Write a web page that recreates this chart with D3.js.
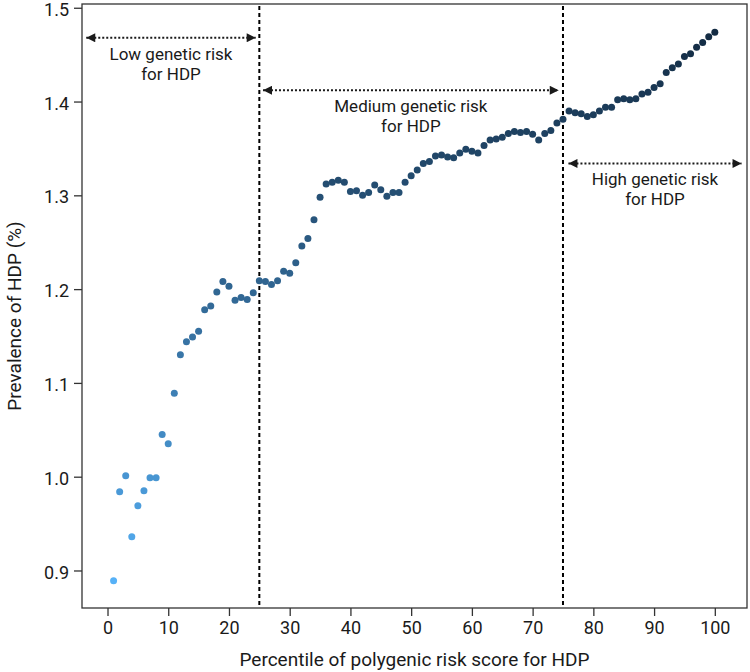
<!DOCTYPE html>
<html>
<head>
<meta charset="utf-8">
<script src="https://cdn.jsdelivr.net/npm/d3@7"></script>
<style>
  body { margin: 0; background: #fff; }
  text { font-family: Roboto, "Noto Sans", sans-serif; fill: #1a1a1a; }
</style>
</head>
<body>
<div id="chart"></div>
<script>
// percentile of polygenic risk score (1..100)
const percentiles = d3.range(1, 101);

// prevalence of HDP (%), one per percentile
const prevalence = [
  0.889, 0.984, 1.001, 0.936, 0.969, 0.985, 0.999, 0.999, 1.045, 1.035,
  1.089, 1.130, 1.144, 1.149, 1.155, 1.178, 1.182, 1.197, 1.208, 1.203,
  1.188, 1.191, 1.189, 1.196, 1.209, 1.208, 1.205, 1.209, 1.219, 1.217,
  1.228, 1.246, 1.254, 1.274, 1.298, 1.312, 1.314, 1.316, 1.314, 1.304,
  1.305, 1.300, 1.303, 1.311, 1.306, 1.299, 1.303, 1.303, 1.314, 1.321,
  1.327, 1.334, 1.336, 1.342, 1.343, 1.341, 1.340, 1.345, 1.349, 1.347,
  1.345, 1.353, 1.359, 1.360, 1.362, 1.366, 1.368, 1.367, 1.368, 1.365,
  1.359, 1.366, 1.369, 1.377, 1.381, 1.390, 1.388, 1.387, 1.384, 1.386,
  1.390, 1.394, 1.394, 1.402, 1.403, 1.402, 1.403, 1.408, 1.410, 1.415,
  1.419, 1.431, 1.436, 1.440, 1.448, 1.451, 1.458, 1.463, 1.469, 1.474
];

const xTicks = [0, 10, 20, 30, 40, 50, 60, 70, 80, 90, 100];
const yTicks = [0.9, 1.0, 1.1, 1.2, 1.3, 1.4, 1.5];

// risk group cut points and their labels
const cutPoints = [25, 75];
const groupLabels = [
  ["Low genetic risk", "for HDP"],
  ["Medium genetic risk", "for HDP"],
  ["High genetic risk", "for HDP"]
];
// arrow spans (percentile units) and heights (prevalence units)
const groupFrom = [-3.5, 25.6, 75.9];
const groupTo = [24.4, 74.3, 104.4];
const groupY = [1.468, 1.412, 1.334];

const width = 750, height = 672;
const box = {left: 82, right: 747, top: 4, bottom: 608};

const svg = d3.select('#chart')
  .append('svg')
  .attr('width', width)
  .attr('height', height);

const x = d3.scaleLinear()
  .domain([-4.2, 105.3])
  .range([box.left, box.right]);

const y = d3.scaleLinear()
  .domain([0.86, 1.504])
  .range([box.bottom, box.top]);

const color = d3.scaleLinear()
  .domain(d3.extent(prevalence))
  .range(['#56B1F7', '#132B43'])
  .interpolate(d3.interpolateLab);

// X axis
const xAxis = svg.append('g')
  .attr('transform', `translate(0,${box.bottom})`)
  .call(d3.axisBottom(x).tickValues(xTicks).tickSize(8).tickPadding(5));
xAxis.select('.domain').remove();
xAxis.selectAll('line').attr('stroke', '#333').attr('stroke-width', 1.3);
xAxis.selectAll('text')
  .attr('font-size', 18)
  .attr('font-family', 'Roboto, sans-serif')
  .attr('fill', '#1a1a1a');

// Y axis
const yAxis = svg.append('g')
  .attr('transform', `translate(${box.left},0)`)
  .call(d3.axisLeft(y).tickValues(yTicks).tickFormat(d3.format('.1f')).tickSize(8).tickPadding(5));
yAxis.select('.domain').remove();
yAxis.selectAll('line').attr('stroke', '#333').attr('stroke-width', 1.3);
yAxis.selectAll('text')
  .attr('font-size', 18)
  .attr('font-family', 'Roboto, sans-serif')
  .attr('fill', '#1a1a1a')
  .attr('dy', '0.42em');

// plot border
svg.append('rect')
  .attr('x', box.left)
  .attr('y', box.top)
  .attr('width', box.right - box.left)
  .attr('height', box.bottom - box.top)
  .attr('fill', 'none')
  .attr('stroke', '#333')
  .attr('stroke-width', 1.3);

// dashed cut lines
svg.selectAll('.cut')
  .data(cutPoints)
  .enter().append('line')
  .attr('x1', d => x(d)).attr('x2', d => x(d))
  .attr('y1', box.top + 2).attr('y2', box.bottom - 2)
  .attr('stroke', '#000')
  .attr('stroke-width', 2)
  .attr('stroke-dasharray', '4,3');

// arrow heads
const defs = svg.append('defs');
defs.append('marker')
  .attr('id', 'head')
  .attr('viewBox', '0 0 10 10')
  .attr('refX', 10).attr('refY', 5)
  .attr('markerWidth', 10).attr('markerHeight', 9)
  .attr('markerUnits', 'userSpaceOnUse')
  .attr('orient', 'auto-start-reverse')
  .append('path')
  .attr('d', 'M0,0 L10,5 L0,10 Z')
  .attr('fill', '#1a1a1a');

const groups = svg.selectAll('.grp')
  .data(groupLabels)
  .enter().append('g');

groups.append('line')
  .attr('x1', (d, i) => x(groupFrom[i]))
  .attr('x2', (d, i) => x(groupTo[i]))
  .attr('y1', (d, i) => y(groupY[i]))
  .attr('y2', (d, i) => y(groupY[i]))
  .attr('stroke', '#1a1a1a')
  .attr('stroke-width', 2)
  .attr('stroke-dasharray', '2,2')
  .attr('marker-start', 'url(#head)')
  .attr('marker-end', 'url(#head)');

groups.each(function(lines, i) {
  const cx = (x(groupFrom[i]) + x(groupTo[i])) / 2;
  const g = d3.select(this);
  lines.forEach((t, k) => {
    g.append('text')
      .attr('x', cx)
      .attr('y', y(groupY[i]) + 22 + k * 20)
      .attr('text-anchor', 'middle')
      .attr('font-size', 17)
      .text(t);
  });
});

// points
svg.append('g')
  .selectAll('circle')
  .data(percentiles)
  .enter().append('circle')
  .attr('cx', d => x(d))
  .attr('cy', (d, i) => y(prevalence[i]))
  .attr('r', 3.5)
  .attr('fill', (d, i) => color(prevalence[i]));

// axis titles
svg.append('text')
  .attr('x', (box.left + box.right) / 2)
  .attr('y', 666)
  .attr('text-anchor', 'middle')
  .attr('font-size', 19)
  .text('Percentile of polygenic risk score for HDP');

svg.append('text')
  .attr('transform', `translate(21,316) rotate(-90)`)
  .attr('text-anchor', 'middle')
  .attr('font-size', 19)
  .text('Prevalence of HDP (%)');
</script>
</body>
</html>
